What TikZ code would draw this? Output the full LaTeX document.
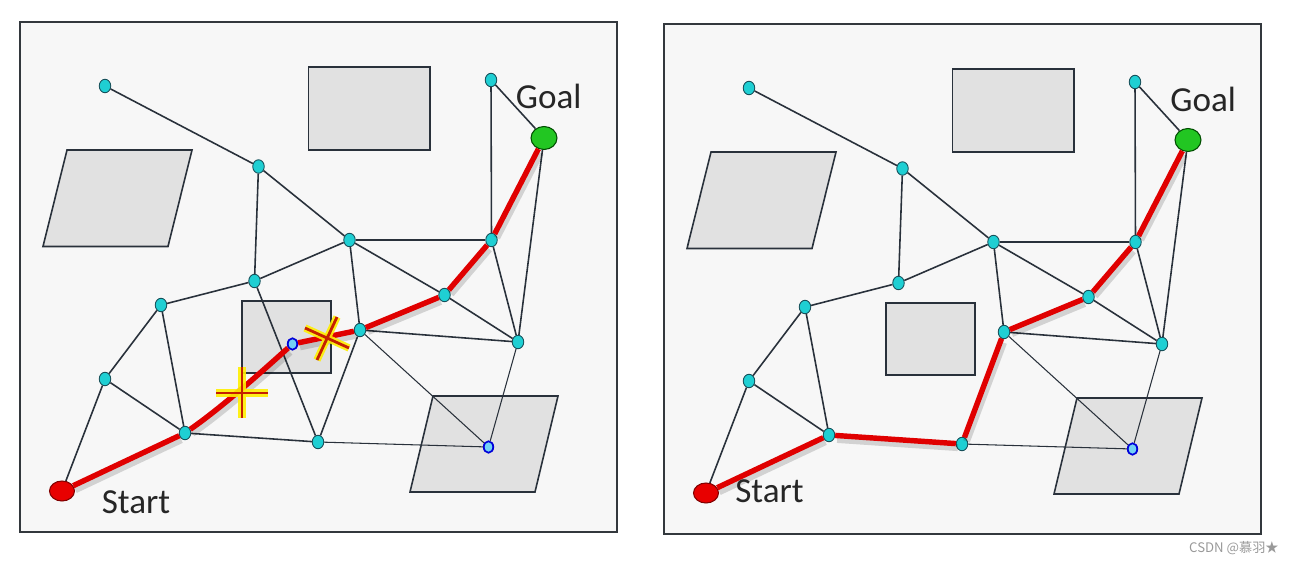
\documentclass[tikz,border=0pt]{standalone}
\usepackage{fontspec}
\setmainfont{Carlito}
\newfontfamily\cjkfont{Noto Sans CJK SC}
\usetikzlibrary{shapes, calc}

\definecolor{panelbg}{HTML}{F7F7F7}
\definecolor{framecol}{HTML}{33383D}
\definecolor{obstfill}{HTML}{E1E1E1}
\definecolor{edgecol}{HTML}{29313B}
\definecolor{dotfill}{HTML}{1FCFD3}
\definecolor{dotline}{HTML}{17505A}
\definecolor{pathred}{HTML}{E00000}
\definecolor{goalgreen}{HTML}{22C622}
\definecolor{startred}{HTML}{E80000}
\definecolor{markyellow}{HTML}{FFF000}
\definecolor{markcore}{HTML}{C42000}
\def \dotwidth {0.23cm}
\def \dotheight {0.27cm}

\tikzset{
  panel/.style = {draw = framecol, fill = panelbg, line width = 1.1pt},
  obstacle/.style = {draw = edgecol, fill = obstfill, line width = 0.9pt},
  dot/.style = {ellipse, draw = dotline, fill = dotfill, line width = 0.5pt, inner sep = 0pt, minimum width = \dotwidth, minimum height = \dotheight},
  bluedot/.style = {ellipse, draw = blue!85!black, fill = cyan!55, line width = 1pt, inner sep = 0pt, minimum width = 0.19cm, minimum height = 0.23cm},
  goaldot/.style = {ellipse, draw = green!30!black, fill = goalgreen, line width = 0.6pt, inner sep = 0pt, minimum width = 0.52cm, minimum height = 0.46cm},
  startdot/.style = {ellipse, draw = red!50!black, fill = startred, line width = 0.6pt, inner sep = 0pt, minimum width = 0.5cm, minimum height = 0.4cm},
  link/.style = {draw = edgecol, line width = 0.9pt},
  thinlink/.style = {draw = edgecol, line width = 0.6pt},
  route/.style = {draw = pathred, line width = 3.1pt},
  routeshadow/.style = {draw = black, opacity = 0.15, line width = 4pt, transform canvas = {shift = {(2,4)}}},
  maplabel/.style = {inner sep = 0pt, anchor = base west, text = black!85, font = \fontsize{20}{24}\selectfont},
  markglow/.style = {draw = markyellow, line width = 4.2pt, opacity = 0.9},
  markline/.style = {draw = markcore, line width = 1.6pt}
}

% one map: frame, obstacles, roadmap nodes and links
\newcommand{\drawmap}[1]{
\draw[panel] (20,22) rectangle (617,532);
\draw[obstacle] (308.5,67) rectangle (430,150);
\draw[obstacle] (67,150) -- (192,150) -- (168,246.5) -- (43,246.5) -- cycle;
\draw[obstacle] (242,301) rectangle (331,373);
\draw[obstacle] (433,396) -- (558,396) -- (535,492) -- (410,492) -- cycle;

\node (#1v1) [dot] at (105,86) {};
\node (#1v2) [dot] at (258.5,166.5) {};
\node (#1v3) [dot] at (349.5,240) {};
\node (#1v4) [dot] at (491.5,240) {};
\node (#1v5) [dot] at (491,80) {};
\node (#1v6) [dot] at (254.5,281) {};
\node (#1v7) [dot] at (161,305) {};
\node (#1v8) [dot] at (360,330) {};
\node (#1v9) [dot] at (444.5,295) {};
\node (#1v10) [dot] at (518,342) {};
\node (#1v11) [dot] at (105,379) {};
\node (#1v12) [dot] at (185,433) {};
\node (#1v13) [dot] at (318,442) {};
\node (#1v14) [bluedot] at (488.5,447) {};
\node (#1goal) [goaldot] at (544,138) {};
\node (#1start) [startdot] at (62,491) {};

\draw[link] (#1v1) to (#1v2);
\draw[link] (#1v2) to (#1v3);
\draw[link] (#1v2) to (#1v6);
\draw[link] (#1v6) to (#1v3);
\draw[link] (#1v6) to (#1v7);
\draw[link] (#1v3) to (#1v4);
\draw[link] (#1v3) to (#1v8);
\draw[link] (#1v3) to (#1v9);
\draw[link] (#1v4) to (#1v5);
\draw[link] (#1v5) to (#1goal);
\draw[link] (#1goal) to (#1v10);
\draw[link] (#1v4) to (#1v10);
\draw[link] (#1v9) to (#1v10);
\draw[link] (#1v8) to (#1v10);
\draw[link] (#1v8) to (#1v13);
\draw[link] (#1v7) to (#1v11);
\draw[link] (#1v7) to (#1v12);
\draw[link] (#1v11) to (#1v12);
\draw[link] (#1v11) to (#1start);
\draw[link] (#1v12) to (#1v13);
\draw[thinlink] (#1v8) to (#1v14);
\draw[thinlink] (#1v10) to (#1v14);
\draw[thinlink] (#1v13) to (#1v14);
}

\begin{document}
\begin{tikzpicture}[x = 0.02cm, y = -0.02cm]
\useasboundingbox (0,0) rectangle (1296,561);

% left map: path through the centre obstacle
\drawmap{l}
\node (lh) [bluedot] at (292.5,344) {};
\draw[link] (lv6) to (lv13);

\draw[routeshadow] (lstart) to (lv12) .. controls (225,405) and (268,366) .. (lh) to (lv8) to (lv9) to (lv4) to (lgoal);
\draw[route] (lstart) to (lv12);
\draw[route] (lv12) .. controls (225,405) and (268,366) .. (lh);
\draw[route] (lh) to (lv8);
\draw[route] (lv8) to (lv9);
\draw[route] (lv9) to (lv4);
\draw[route] (lv4) to (lgoal);

\draw[markglow] (216,393) -- (268,393) (242,367) -- (242,418);
\draw[markline] (216,393) -- (268,393) (242,367) -- (242,418);
\draw[markglow] (305,328) -- (349,348) (337,317) -- (317,360);
\draw[markline] (305,328) -- (349,348) (337,317) -- (317,360);

\node (lstartlabel) [maplabel] at (101.5,513) {Start};
\node (lgoallabel) [maplabel] at (515.5,108.5) {Goal};

% right map: repaired path
\begin{scope}[shift = {(644,2)}]
\drawmap{r}
\draw[routeshadow] (rstart) to (rv12) to (rv13) to (rv8) to (rv9) to (rv4) to (rgoal);
\draw[route] (rstart) to (rv12);
\draw[route] (rv12) to (rv13);
\draw[route] (rv13) to (rv8);
\draw[route] (rv8) to (rv9);
\draw[route] (rv9) to (rv4);
\draw[route] (rv4) to (rgoal);

\node (rstartlabel) [maplabel] at (91,500) {Start};
\node (rgoallabel) [maplabel] at (526,109) {Goal};
\end{scope}

\node (mark) [inner sep = 0pt, anchor = base east, text = black!40, font = \cjkfont\fontsize{7.5}{9}\selectfont] at (1279,552) {CSDN @慕羽★};
\end{tikzpicture}
\end{document}
